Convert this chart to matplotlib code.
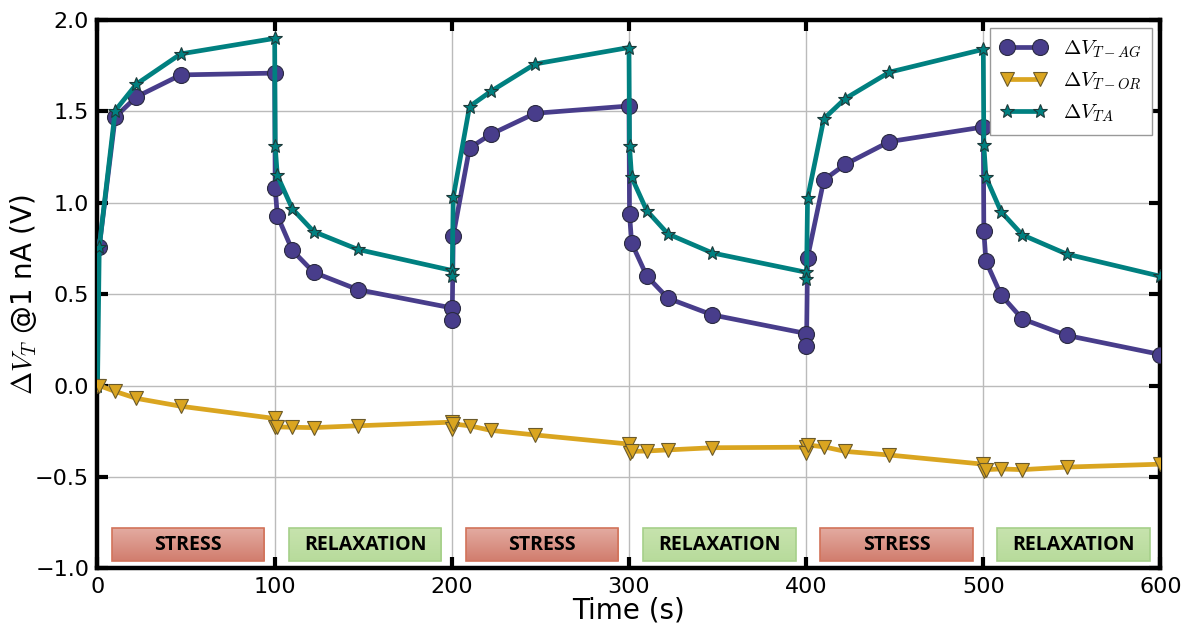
import numpy as np
import matplotlib.pyplot as plt
from matplotlib.patches import Rectangle

plt.rcParams['mathtext.fontset'] = 'cm'

# time points (s)
t = [0, 1, 10, 22, 47, 100, 100.3, 101.5, 110, 122, 147, 200,
     200.2, 200.8, 210, 222, 247, 300, 300.3, 301.5, 310, 322, 347, 400,
     400.2, 400.8, 410, 422, 447, 500, 500.3, 501.5, 510, 522, 547, 600]

# first AG point not drawn in the original
dv_ag = [np.nan, 0.76, 1.47, 1.58, 1.70, 1.71, 1.08, 0.93, 0.74, 0.62, 0.525, 0.425,
         0.36, 0.82, 1.30, 1.375, 1.49, 1.53, 0.94, 0.78, 0.60, 0.478, 0.387, 0.285,
         0.215, 0.70, 1.125, 1.21, 1.335, 1.415, 0.845, 0.68, 0.496, 0.365, 0.275, 0.17]

dv_or = [0, 0.0, -0.032, -0.07, -0.113, -0.18, -0.226, -0.226, -0.228, -0.23, -0.22, -0.20,
         -0.24, -0.21, -0.22, -0.245, -0.27, -0.32, -0.37, -0.36, -0.358, -0.352, -0.34, -0.337,
         -0.37, -0.325, -0.335, -0.36, -0.38, -0.43, -0.47, -0.46, -0.456, -0.46, -0.446, -0.43]

dv_ta = [0, 0.76, 1.505, 1.65, 1.815, 1.90, 1.31, 1.15, 0.967, 0.843, 0.745, 0.63,
         0.60, 1.03, 1.527, 1.61, 1.76, 1.85, 1.31, 1.14, 0.958, 0.83, 0.726, 0.62,
         0.584, 1.025, 1.46, 1.57, 1.715, 1.84, 1.314, 1.14, 0.952, 0.825, 0.72, 0.598]

phase_labels = ['STRESS', 'RELAXATION', 'STRESS', 'RELAXATION', 'STRESS', 'RELAXATION']
phase_start = [0, 100, 200, 300, 400, 500]

fig = plt.figure(figsize=(11.89, 6.28), dpi=100)
ax = fig.add_axes([0.082, 0.095, 0.894, 0.873])

ax.plot(t, dv_ag, '-o', color='#483D8B', lw=3.4, ms=11.5,
        mec='#2a2a40', mew=0.8, label=r'$\Delta V_{T-AG}$', zorder=3)
ax.plot(t, dv_ta, '-*', color='#008080', lw=3.4, ms=10,
        mec='#1d3a3a', mew=0.8, label=r'$\Delta V_{TA}$', zorder=4)
ax.plot(t, dv_or, '-v', color='#DAA520', lw=3.4, ms=10.5,
        mec='#6b5a2a', mew=0.8, label=r'$\Delta V_{T-OR}$', zorder=5)

# phase boxes with a light vertical gradient
grad = np.linspace(0, 1, 50).reshape(-1, 1)
for lab, t0 in zip(phase_labels, phase_start):
    if lab == 'STRESS':
        top, bot, ec = np.array([0.89, 0.67, 0.63]), np.array([0.82, 0.49, 0.43]), '#D2735A'
    else:
        top, bot, ec = np.array([0.78, 0.89, 0.68]), np.array([0.72, 0.86, 0.61]), '#A6D08A'
    img = top[None, None, :] * (1 - grad[:, :, None]) + bot[None, None, :] * grad[:, :, None]
    ax.imshow(img, extent=(t0 + 8, t0 + 94, -0.96, -0.78), aspect='auto',
              origin='upper', zorder=2)
    ax.add_patch(Rectangle((t0 + 8, -0.96), 86, 0.18, facecolor='none',
                           edgecolor=ec, lw=1.2, zorder=2))
    ax.text(t0 + 51, -0.87, lab, ha='center', va='center', fontsize=14,
            fontweight='bold', family='Open Sans', zorder=6)

ax.set_xlim(0, 600)
ax.set_ylim(-1.0, 2.0)
ax.set_xticks(np.arange(0, 601, 100))
ax.set_yticks(np.arange(-1.0, 2.01, 0.5))
ax.grid(True, color='#bbbbbb', lw=1.0)
ax.set_axisbelow(True)

for s in ax.spines.values():
    s.set_linewidth(3.2)
ax.tick_params(direction='in', length=8, width=3, top=True, right=True,
               labelsize=16, pad=6)

ax.set_xlabel('Time (s)', fontsize=20, labelpad=0)
ax.set_ylabel(r'$\Delta V_T$ @1 nA (V)', fontsize=20, labelpad=-3)

h, l = ax.get_legend_handles_labels()
order = [0, 2, 1]
leg = ax.legend([h[i] for i in order], [l[i] for i in order], loc='upper right',
                numpoints=2, fontsize=15, fancybox=False, framealpha=1,
                edgecolor='#999999', borderpad=0.5, handlelength=2.2,
                bbox_to_anchor=(0.992, 0.985), borderaxespad=0)
leg.get_frame().set_linewidth(1.0)

plt.savefig('out.png', dpi=100)
